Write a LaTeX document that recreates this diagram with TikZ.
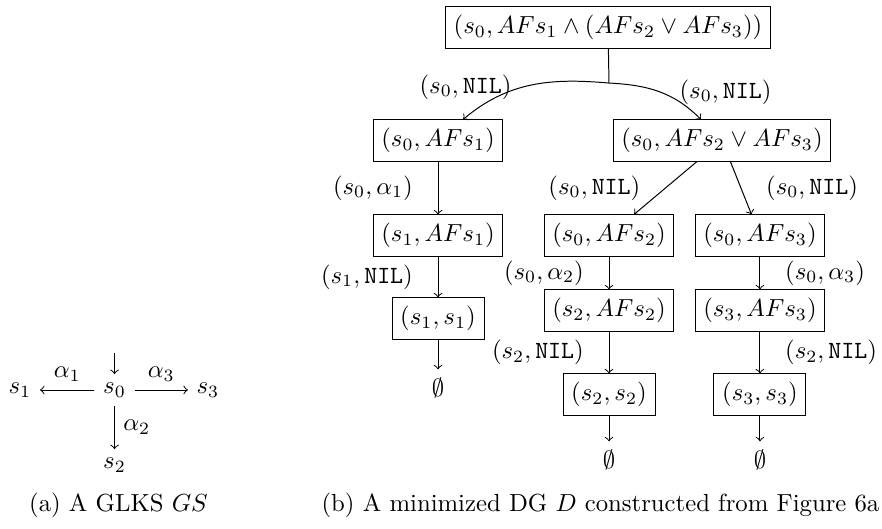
\documentclass[tikz,border=0pt]{standalone}
\usepackage{amsmath,amssymb}
\usepackage{tikz}
\usetikzlibrary{arrows,positioning}

\begin{document}
\begin{tikzpicture}[
        dgbox/.style={draw, rectangle},
        lbl/.style={inner sep=0pt}
    ]
    \useasboundingbox (0,0) rectangle (12.545,-7.524);

    % (a) the GLKS
    \node (s0) at (1.629,-5.547) {$s_0$};
    \node (s1) at (0.284,-5.547) {$s_1$};
    \node (s3) at (2.958,-5.547) {$s_3$};
    \node (s2) at (1.629,-6.614) {$s_2$};
    \coordinate (init) at (1.629,-5.021);
    \draw[->] (init) -- (s0);
    \draw[->] (s0) -- node[above] (a1) {$\alpha_1$} (s1);
    \draw[->] (s0) -- node[above] (a3) {$\alpha_3$} (s3);
    \draw[->] (s0) -- node[right] (a2) {$\alpha_2$} (s2);

    % (b) the DG
    \node[dgbox] (root) at (8.648,-0.391) {$(s_0, AF s_1 \wedge (AF s_2 \vee AF s_3))$};
    \coordinate (jn) at (8.662,-1.181);
    \node[dgbox] (n1) at (6.230,-1.998) {$(s_0, AF s_1)$};
    \node[dgbox] (n2) at (10.269,-1.998) {$(s_0, AF s_2 \vee AF s_3)$};
    \node[dgbox] (n11) at (6.230,-3.350) {$(s_1, AF s_1)$};
    \node[dgbox] (n111) at (6.230,-4.530) {$(s_1, s_1)$};
    \node (e1) at (6.230,-5.519) {$\emptyset$};
    \node[dgbox] (n21) at (8.662,-3.350) {$(s_0, AF s_2)$};
    \node[dgbox] (n22) at (10.809,-3.350) {$(s_0, AF s_3)$};
    \node[dgbox] (n211) at (8.662,-4.416) {$(s_2, AF s_2)$};
    \node[dgbox] (n221) at (10.809,-4.416) {$(s_3, AF s_3)$};
    \node[dgbox] (n2111) at (8.662,-5.611) {$(s_2, s_2)$};
    \node[dgbox] (n2211) at (10.809,-5.611) {$(s_3, s_3)$};
    \node (e2) at (8.662,-6.543) {$\emptyset$};
    \node (e3) at (10.809,-6.543) {$\emptyset$};

    \draw (root) -- (jn);
    \draw[->] (jn) to[out=175, in=40] (n1);
    \draw[->] (jn) to[out=-3, in=135] (n2);
    \node (t1) at (6.621,-1.237) {$(s_0, \mathtt{NIL})$};
    \node (t2) at (10.319,-1.309) {$(s_0, \mathtt{NIL})$};

    \draw[->] (n1) -- node[lbl, left=10pt] (l1) {$(s_0, \alpha_1)$} (n11);
    \draw[->] (n11) -- node[lbl, left=10pt] (l2) {$(s_1, \mathtt{NIL})$} (n111);
    \draw[->] (n111) -- (e1);

    \draw[->] (n2) -- node[lbl, left=10pt] (l3) {$(s_0, \mathtt{NIL})$} (n21);
    \draw[->] (n2) -- node[lbl, right=10pt] (l4) {$(s_0, \mathtt{NIL})$} (n22);
    \draw[->] (n21) -- node[lbl, left=10pt] (l5) {$(s_0, \alpha_2)$} (n211);
    \draw[->] (n22) -- node[lbl, right=10pt] (l6) {$(s_0, \alpha_3)$} (n221);
    \draw[->] (n211) -- node[lbl, left=10pt] (l7) {$(s_2, \mathtt{NIL})$} (n2111);
    \draw[->] (n221) -- node[lbl, right=10pt] (l8) {$(s_2, \mathtt{NIL})$} (n2211);
    \draw[->] (n2111) -- (e2);
    \draw[->] (n2211) -- (e3);

    % captions
    \node (capa) at (1.685,-7.183) {(a) A GLKS $GS$};
    \node (capb) at (8.541,-7.183) {(b) A minimized DG $D$ constructed from Figure 6a};
\end{tikzpicture}
\end{document}
